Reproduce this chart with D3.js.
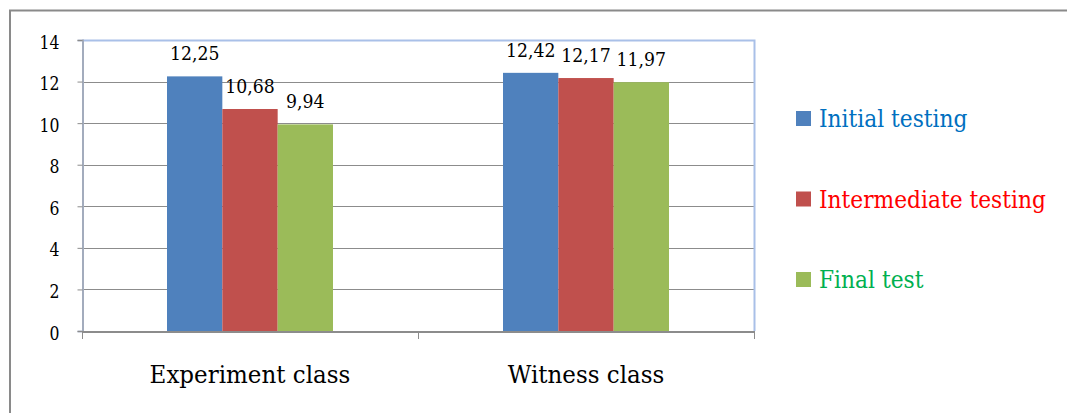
<!DOCTYPE html>
<html>
<head>
<meta charset="utf-8">
<script src="https://cdn.jsdelivr.net/npm/d3@7"></script>
<style>
  html, body { margin: 0; padding: 0; background: #fff; }
  svg { display: block; }
</style>
</head>
<body>
<svg id="chart" width="1067" height="413"></svg>
<script>
// Mean test scores per class and testing stage
const categories = ["Experiment class", "Witness class"];
const seriesNames = ["Initial testing", "Intermediate testing", "Final test"];
const initialTesting = [12.25, 12.42];
const intermediateTesting = [10.68, 12.17];
const finalTest = [9.94, 11.97];
const yTicks = [0, 2, 4, 6, 8, 10, 12, 14];

const seriesValues = [initialTesting, intermediateTesting, finalTest];
const barColors = ["#4f81bd", "#c0504d", "#9bbb59"];
const legendColors = ["#0070c0", "#ff0000", "#00b050"];

const svg = d3.select("#chart");
const serif = "DejaVu Serif";

// Narrow a serif text horizontally so it sets like a Times-style face
function condense(sel, k) {
  sel.each(function () {
    const w = this.getComputedTextLength();
    d3.select(this).attr("textLength", w * k).attr("lengthAdjust", "spacingAndGlyphs");
  });
}

// Outer chart frame (runs off the right and bottom edges)
svg.append("rect")
  .attr("x", 10).attr("y", 10.5)
  .attr("width", 1080).attr("height", 420)
  .attr("fill", "#fff")
  .attr("stroke", "#8a8a8a")
  .attr("stroke-width", 2);

const plot = { left: 82, right: 754, top: 40, bottom: 331 };

const y = d3.scaleLinear().domain([0, 14]).range([plot.bottom, plot.top]);
const x0 = d3.scaleBand().domain(categories).range([plot.left, plot.right]);
const groupWidth = 166;
const x1 = d3.scaleBand().domain(seriesNames)
  .range([(x0.bandwidth() - groupWidth) / 2, (x0.bandwidth() + groupWidth) / 2]);

// Horizontal gridlines
svg.append("g")
  .selectAll("line")
  .data(yTicks.filter(d => d > 0 && d < 14))
  .join("line")
  .attr("x1", plot.left).attr("x2", plot.right)
  .attr("y1", d => Math.round(y(d)) + 0.5).attr("y2", d => Math.round(y(d)) + 0.5)
  .attr("stroke", "#8c8c8c").attr("stroke-width", 1);

// Plot area border (top and right, light blue)
svg.append("path")
  .attr("d", `M${plot.left},${plot.top + 0.5}H${plot.right + 0.5}V${plot.bottom}`)
  .attr("fill", "none")
  .attr("stroke", "#a9c0e8")
  .attr("stroke-width", 2);

// Y axis
const yAxis = d3.axisLeft(y).tickValues(yTicks).tickSize(5).tickPadding(18)
  .tickFormat(d3.format("d"));
const gy = svg.append("g")
  .attr("transform", `translate(${plot.left + 0.5},0)`)
  .call(yAxis);
gy.select(".domain").attr("stroke", "#a3acbd").attr("stroke-width", 2);
gy.selectAll(".tick line").attr("stroke", "#8c8c8c");
gy.selectAll(".tick text")
  .attr("font-family", serif).attr("font-size", 18).attr("dy", "0.45em")
  .attr("fill", "#000")
  .call(condense, 0.87);

// Bars
const groups = svg.append("g")
  .selectAll("g")
  .data(categories)
  .join("g")
  .attr("transform", d => `translate(${x0(d)},0)`);

groups.selectAll("rect")
  .data((c, ci) => seriesNames.map((s, si) => ({ s, si, v: seriesValues[si][ci] })))
  .join("rect")
  .attr("x", d => x1(d.s))
  .attr("y", d => y(d.v))
  .attr("width", x1.bandwidth())
  .attr("height", d => y(0) - y(d.v))
  .attr("fill", d => barColors[d.si]);

// Value labels
const fmt = v => d3.format(".2f")(v).replace(".", ",");
groups.selectAll("text")
  .data((c, ci) => seriesNames.map((s, si) => ({ s, si, v: seriesValues[si][ci] })))
  .join("text")
  .attr("x", d => x1(d.s) + x1.bandwidth() / 2)
  .attr("y", d => y(d.v) - 16)
  .attr("text-anchor", "middle")
  .attr("font-family", serif)
  .attr("font-size", 18)
  .attr("fill", "#000")
  .text(d => fmt(d.v))
  .call(condense, 0.96);

// X axis
const xAxis = d3.axisBottom(x0).tickSize(0);
const gx = svg.append("g")
  .attr("transform", `translate(0,${plot.bottom + 0.5})`)
  .call(xAxis);
gx.select(".domain").attr("stroke", "#8c8c8c").attr("stroke-width", 2);
gx.selectAll(".tick text")
  .attr("font-family", serif).attr("font-size", 25)
  .attr("y", 51).attr("dy", null)
  .attr("fill", "#000")
  .call(condense, 0.92);

// Category dividers on the x axis
const dividers = [x0(categories[0]), x0(categories[1]), x0(categories[1]) + x0.bandwidth()];
svg.append("g").selectAll("line")
  .data(dividers)
  .join("line")
  .attr("x1", d => d + 0.5).attr("x2", d => d + 0.5)
  .attr("y1", plot.bottom).attr("y2", plot.bottom + 8)
  .attr("stroke", "#8c8c8c").attr("stroke-width", 1);

// Legend
const legend = svg.append("g").attr("transform", "translate(796,111)");
const items = legend.selectAll("g")
  .data(seriesNames)
  .join("g")
  .attr("transform", (d, i) => `translate(0,${i * 80.5})`);
items.append("rect")
  .attr("width", 15).attr("height", 15)
  .attr("fill", (d, i) => barColors[i]);
items.append("text")
  .attr("x", 23).attr("y", 16)
  .attr("font-family", serif)
  .attr("font-size", 25)
  .attr("fill", (d, i) => legendColors[i])
  .text(d => d)
  .call(condense, 0.87);
</script>
</body>
</html>
